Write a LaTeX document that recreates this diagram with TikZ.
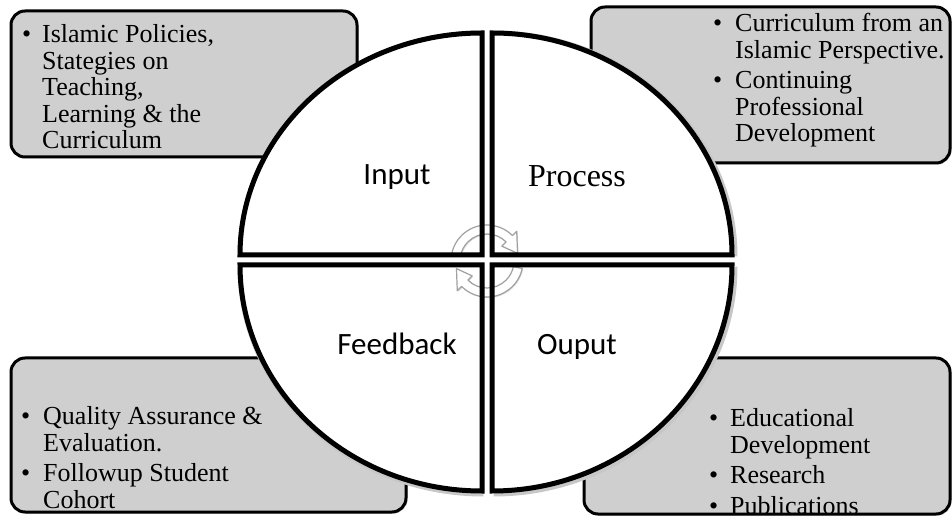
\documentclass[tikz,border=0pt]{standalone}
\usepackage{fontspec}
\setmainfont{Liberation Serif}
\newfontfamily\labelsans{Carlito}
\usetikzlibrary{shadows}
\definecolor{panelgray}{RGB}{207,207,207}
\definecolor{arrowedge}{RGB}{160,160,160}

\begin{document}
\begin{tikzpicture}[x=1pt,y=1pt,
  panel/.style={fill=panelgray, draw=black, line width=3pt, rounded corners=14pt,
    drop shadow={shadow xshift=1.5pt, shadow yshift=-1.5pt, opacity=0.35}},
  quadfill/.style={fill=white},
  quadedge/.style={draw=black, line width=5pt, line join=miter},
  halo/.style={draw=black!22, line width=8pt},
  paneltext/.style={anchor=base west, inner sep=0pt, font=\fontsize{26}{26.5}\selectfont},
  sectorlabel/.style={anchor=base, inner sep=0pt, font=\labelsans\fontsize{31}{31}\selectfont},
  serlabel/.style={anchor=base, inner sep=0pt, font=\fontsize{32}{32}\selectfont},
  cyclearrow/.style={fill=white, draw=arrowedge, line width=1.2pt, line join=round,
    drop shadow={shadow xshift=1pt, shadow yshift=-1pt, opacity=0.25}}]

\useasboundingbox (0,0) rectangle (952,519);

% grey text panels in the four corners
\path[panel] (11,362) rectangle (357,508);
\path[panel] (591,356) rectangle (950,512);
\path[panel] (11,7) rectangle (406,161);
\path[panel] (584,5) rectangle (950,161);

% soft halo along the outer rim of the disc
\begin{scope}[shift={(1.5,-1.5)}]
  \draw[halo] (240,264) arc[start angle=180,end angle=90,x radius=242,y radius=222];
  \draw[halo] (492,486) arc[start angle=90,end angle=0,x radius=240,y radius=222];
  \draw[halo] (240,254) arc[start angle=180,end angle=270,x radius=242,y radius=226];
  \draw[halo] (492,28) arc[start angle=270,end angle=360,x radius=240,y radius=226];
\end{scope}

% white quarter sectors
\fill[quadfill] (482,264) -- (240,264) arc[start angle=180,end angle=90,x radius=242,y radius=222] -- cycle;
\fill[quadfill] (492,264) -- (492,486) arc[start angle=90,end angle=0,x radius=240,y radius=222] -- cycle;
\fill[quadfill] (482,254) -- (240,254) arc[start angle=180,end angle=270,x radius=242,y radius=226] -- cycle;
\fill[quadfill] (492,254) -- (492,28) arc[start angle=270,end angle=360,x radius=240,y radius=226] -- cycle;

% circular arrows in the middle
\begin{scope}[shift={(487,258)}]
  \filldraw[cyclearrow] (168:36) arc[start angle=168,end angle=45,radius=36]
    -- (45:42) -- (14:31.5) -- (45:21) -- (45:27)
    arc[start angle=45,end angle=168,radius=27] -- cycle;
  \filldraw[cyclearrow] (348:36) arc[start angle=348,end angle=225,radius=36]
    -- (225:42) -- (194:31.5) -- (225:21) -- (225:27)
    arc[start angle=225,end angle=348,radius=27] -- cycle;
\end{scope}

% sector outlines
\draw[quadedge] (482,264) -- (240,264) arc[start angle=180,end angle=90,x radius=242,y radius=222] -- cycle;
\draw[quadedge] (492,264) -- (492,486) arc[start angle=90,end angle=0,x radius=240,y radius=222] -- cycle;
\draw[quadedge] (482,254) -- (240,254) arc[start angle=180,end angle=270,x radius=242,y radius=226] -- cycle;
\draw[quadedge] (492,254) -- (492,28) arc[start angle=270,end angle=360,x radius=240,y radius=226] -- cycle;

% sector labels
\node[sectorlabel] (input) at (397,334) {Input};
\node[serlabel] (process) at (577,332) {Process};
\node[sectorlabel] (feedback) at (397,164) {Feedback};
\node[sectorlabel] (ouput) at (577,164) {Ouput};

% panel texts
\node[paneltext] (inputtext) at (22,476) {\begin{tabular}[t]{@{}l@{}l@{}}
\makebox[20pt][l]{\textbullet} & Islamic Policies,\\
 & Stategies on\\
 & Teaching,\\
 & Learning \& the\\
 & Curriculum
\end{tabular}};

\node[paneltext] (processtext) at (713,487) {\begin{tabular}[t]{@{}l@{}l@{}}
\makebox[22pt][l]{\textbullet} & Curriculum from an\\
 & Islamic Perspective.\\[4pt]
\makebox[22pt][l]{\textbullet} & Continuing\\
 & Professional\\
 & Development
\end{tabular}};

\node[paneltext] (feedbacktext) at (21,94) {\begin{tabular}[t]{@{}l@{}l@{}}
\makebox[22pt][l]{\textbullet} & Quality Assurance \&\\
 & Evaluation.\\[4pt]
\makebox[22pt][l]{\textbullet} & Followup Student\\
 & Cohort
\end{tabular}};

\node[paneltext] (ouputtext) at (709,92) {\begin{tabular}[t]{@{}l@{}l@{}}
\makebox[21pt][l]{\textbullet} & Educational\\
 & Development\\[4pt]
\makebox[21pt][l]{\textbullet} & Research\\[4pt]
\makebox[21pt][l]{\textbullet} & Publications
\end{tabular}};

\end{tikzpicture}
\end{document}
